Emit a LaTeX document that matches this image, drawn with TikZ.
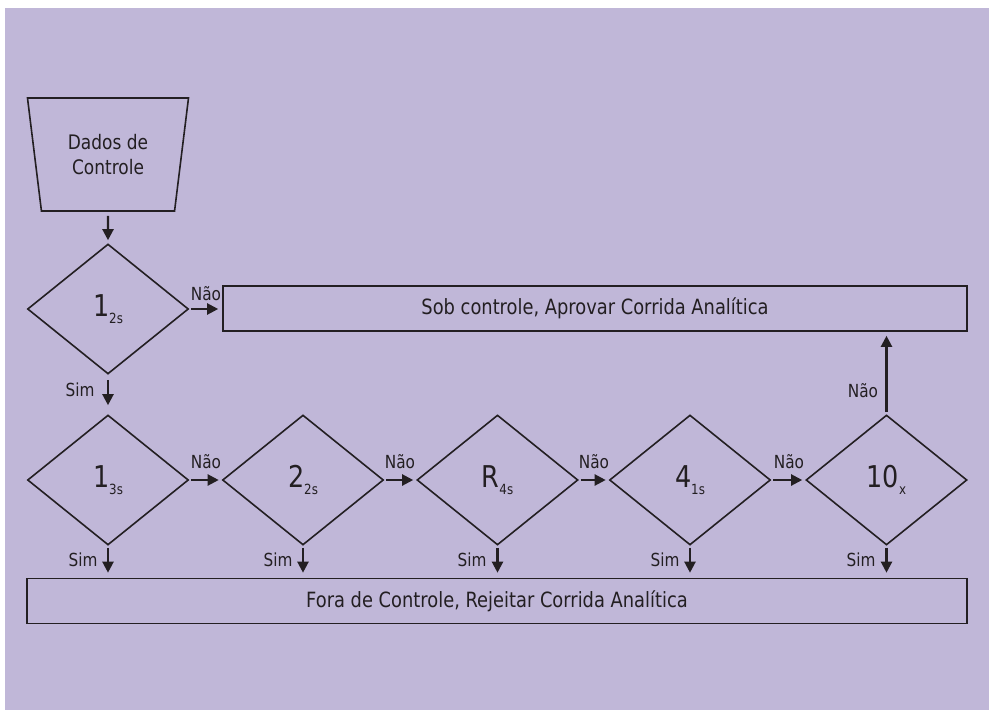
\documentclass[tikz,border=0pt]{standalone}
\usepackage{fontspec}
\setmainfont{DejaVu Sans}[FakeStretch=0.85]
\usetikzlibrary{shapes.geometric,arrows.meta}
\definecolor{bgpurple}{RGB}{192,183,216}
\definecolor{ink}{RGB}{35,31,34}
\newcommand{\dlabel}[2]{{\fontsize{30}{30}\selectfont #1}\raisebox{-7pt}{\fontsize{14}{14}\selectfont #2}}
\tikzset{
  decision/.style={diamond, draw=ink, line width=1.6pt, minimum width=161pt, minimum height=130pt, inner sep=0pt, text=ink},
  boxnode/.style={rectangle, draw=ink, line width=1.6pt, minimum width=744pt, minimum height=45pt, inner sep=0pt, text=ink, font=\fontsize{21}{21}\selectfont},
  flowarrow/.style={draw=ink, line width=2.2pt, -{Triangle[length=11pt,width=11pt]}},
  lbl/.style={text=ink, font=\fontsize{18}{18}\selectfont, inner sep=0pt}
}
\begin{document}
\begin{tikzpicture}[x=1pt,y=-1pt]
\useasboundingbox (0,0) rectangle (989,710);
\fill[white] (0,0) rectangle (989,710);
\fill[bgpurple] (5,8) rectangle (989,710);

\node[trapezium, trapezium left angle=71, trapezium right angle=71, shape border rotate=180,
      trapezium stretches body, minimum width=161pt, minimum height=113pt, draw=ink, line width=1.6pt,
      inner sep=0pt, text=ink, align=center, font=\fontsize{20}{25}\selectfont] (dados) at (108,154.5) {Dados de\\Controle};

\node[decision] (d12) at (108,309) {\dlabel{1}{2s}};
\node[boxnode] (top) at (595,308.5) {Sob controle, Aprovar Corrida Analítica};

\node[decision] (d13) at (108,480) {\dlabel{1}{3s}};
\node[decision] (d22) at (303,480) {\dlabel{2}{2s}};
\node[decision] (r4) at (497.5,480) {\dlabel{R}{4s}};
\node[decision] (d41) at (690,480) {\dlabel{4}{1s}};
\node[decision] (d10) at (886.5,480) {\dlabel{10}{x}};

\node[boxnode, minimum width=940pt] (bot) at (497,601) {Fora de Controle, Rejeitar Corrida Analítica};

\draw[flowarrow, shorten <=4pt, shorten >=3pt] (dados.south) -- (d12.north);
\draw[flowarrow, shorten <=2pt, shorten >=4pt] (d12.east) -- (top.west |- d12.east);
\draw[flowarrow, shorten <=5pt, shorten >=9pt] (d12.south) -- (d13.north);
\draw[flowarrow, shorten <=2pt, shorten >=3pt] (d13.east) -- (d22.west);
\draw[flowarrow, shorten <=2pt, shorten >=3pt] (d22.east) -- (r4.west);
\draw[flowarrow, shorten <=2pt, shorten >=3pt] (r4.east) -- (d41.west);
\draw[flowarrow, shorten <=2pt, shorten >=3pt] (d41.east) -- (d10.west);
\draw[flowarrow, shorten <=2pt, shorten >=4pt] (d10.north) -- (d10.north |- top.south);
\foreach \d in {d13,d22,r4,d41,d10}{
  \draw[flowarrow, shorten <=2pt, shorten >=5pt] (\d.south) -- (\d.south |- bot.north);
}

\node[lbl] (n1) at (206,294) {Não};
\node[lbl] (s1) at (80,390) {Sim};
\node[lbl] (n2) at (206,462) {Não};
\node[lbl] (n3) at (400,462) {Não};
\node[lbl] (n4) at (594,462) {Não};
\node[lbl] (n5) at (789,462) {Não};
\node[lbl] (n6) at (863,391) {Não};
\node[lbl] (s2) at (83,560) {Sim};
\node[lbl] (s3) at (278,560) {Sim};
\node[lbl] (s4) at (472,560) {Sim};
\node[lbl] (s5) at (665,560) {Sim};
\node[lbl] (s6) at (861,560) {Sim};
\end{tikzpicture}
\end{document}
